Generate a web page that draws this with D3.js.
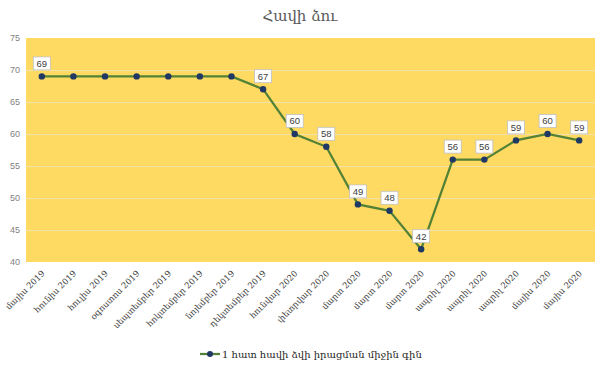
<!DOCTYPE html>
<html><head><meta charset="utf-8">
<script src="https://cdn.jsdelivr.net/npm/d3@7"></script>
<style>body{margin:0;background:#fff}svg{display:block}</style>
</head><body>
<svg id="c" width="600" height="367"></svg>
<script>
const title = "Հավի ձու";
const seriesName = "1 հատ հավի ձվի իրացման միջին գին";
const categories = ["մայիս 2019","հունիս 2019","հուլիս 2019","օգոստոս 2019","սեպտեմբեր 2019","հոկտեմբեր 2019","նոյեմբեր 2019","դեկտեմբեր 2019","հունվար 2020","փետրվար 2020","մարտ 2020","մարտ 2020","մարտ 2020","ապրիլ 2020","ապրիլ 2020","ապրիլ 2020","մայիս 2020","մայիս 2020"];
const values = [69,69,69,69,69,69,69,67,60,58,49,48,42,56,56,59,60,59];
const labelShown = [true,false,false,false,false,false,false,true,true,true,true,true,true,true,true,true,true,true];
const yTicks = [40,45,50,55,60,65,70,75];

const svg = d3.select("#c");
const L = 26, R = 595, T = 38, B = 262;
const x = d3.scalePoint().domain(d3.range(categories.length)).range([L, R]).padding(0.5);
const y = d3.scaleLinear().domain([40, 75]).range([B, T]);
const armFont = "'DejaVu Serif', 'DejaVu Sans', serif";

svg.append("rect").attr("x", L).attr("y", T).attr("width", R - L).attr("height", B - T).attr("fill", "#FFDA63");

const ya = svg.append("g").attr("transform", `translate(${L},0)`)
  .call(d3.axisLeft(y).tickValues(yTicks).tickSize(-(R - L)).tickPadding(6));
ya.select(".domain").remove();
ya.selectAll(".tick line").attr("stroke", "#F2E3A8").attr("stroke-width", 1)
  .filter(d => d === 40 || d === 75).attr("stroke", "none");
ya.selectAll(".tick text").attr("fill", "#7f7f7f").attr("font-family", "'Liberation Sans', Arial, sans-serif").attr("font-size", 9);

const xa = svg.append("g").attr("transform", `translate(0,${B})`)
  .call(d3.axisBottom(x).tickFormat(i => categories[i]).tickSize(0));
xa.select(".domain").remove();
xa.selectAll(".tick text")
  .attr("font-family", armFont).attr("font-size", 8.5).attr("fill", "#404040")
  .attr("text-anchor", "end").attr("dy", 0).attr("y", 0)
  .attr("transform", "translate(3,12) rotate(-45)");

const line = d3.line().x((d, i) => x(i)).y(d => y(d));
svg.append("path").datum(values).attr("d", line).attr("fill", "none")
  .attr("stroke", "#538135").attr("stroke-width", 2.25);

svg.append("g").selectAll("circle").data(values).join("circle")
  .attr("cx", (d, i) => x(i)).attr("cy", d => y(d)).attr("r", 3.2).attr("fill", "#1F3864");

const lg = svg.append("g").selectAll("g").data(values.map((v, i) => ({v, i})).filter(d => labelShown[d.i])).join("g")
  .attr("transform", d => `translate(${x(d.i)},${y(d.v) - 13})`);
lg.append("rect").attr("x", -8.5).attr("y", -6.5).attr("width", 17).attr("height", 13)
  .attr("fill", "#fff").attr("stroke", "#BFBFBF").attr("stroke-width", 0.8);
lg.append("text").text(d => d.v).attr("text-anchor", "middle").attr("dy", "0.35em")
  .attr("font-family", "'Liberation Sans', Arial, sans-serif").attr("font-size", 9.5).attr("fill", "#404040");

svg.append("text").attr("x", 300).attr("y", 21).attr("text-anchor", "middle")
  .attr("font-family", armFont).attr("font-size", 15).attr("fill", "#595959").text(title);

const leg = svg.append("g").attr("transform", "translate(200,354)");
leg.append("line").attr("x1", 0).attr("x2", 20).attr("stroke", "#538135").attr("stroke-width", 2.25);
leg.append("circle").attr("cx", 10).attr("r", 3).attr("fill", "#1F3864");
leg.append("text").attr("x", 22).attr("dy", "0.35em").attr("font-family", armFont)
  .attr("font-size", 10).attr("fill", "#262626").text(seriesName);
</script>
</body></html>
